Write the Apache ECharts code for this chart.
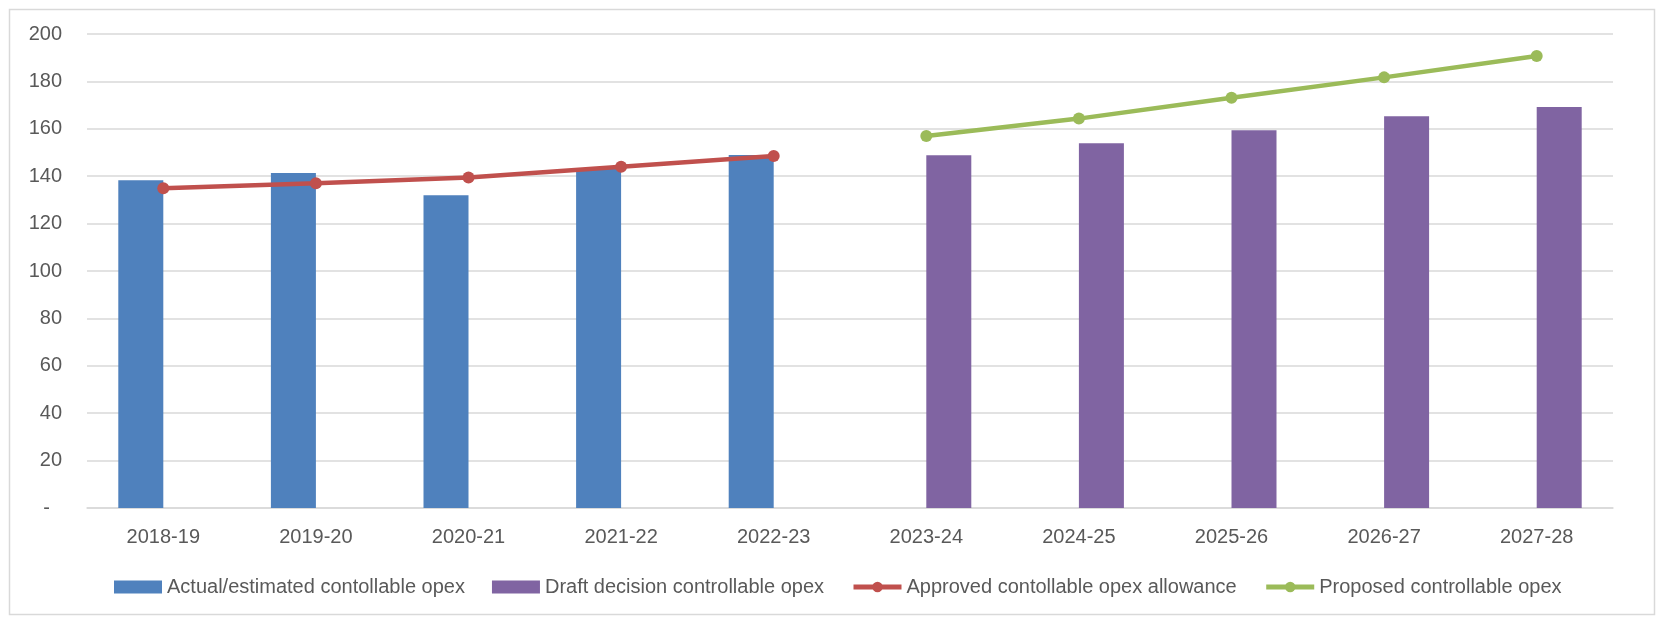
<!DOCTYPE html>
<html>
<head>
<meta charset="utf-8">
<script src="https://cdn.jsdelivr.net/npm/echarts@6/dist/echarts.min.js"></script>
<style>html,body{margin:0;padding:0;background:#fff;}#c{width:1659px;height:619px;}</style>
</head>
<body>
<div id="c"></div>
<script>
var categories = ['2018-19','2019-20','2020-21','2021-22','2022-23','2023-24','2024-25','2025-26','2026-27','2027-28'];
var actualOpex = [138.3, 141.4, 132.0, 143.3, 148.9, null, null, null, null, null];
var draftOpex = [null, null, null, null, null, 148.8, 153.9, 159.4, 165.3, 169.2];
var approvedAllowance = [134.9, 137.0, 139.5, 144.0, 148.5, null, null, null, null, null];
var proposedOpex = [null, null, null, null, null, 157.0, 164.3, 173.1, 181.7, 190.7];
var yTicks = {min: 0, max: 200, interval: 20};

var chart = echarts.init(document.getElementById('c'));
var font = 'Liberation Sans, Arial, sans-serif';
chart.setOption({
  animation: false,
  backgroundColor: '#fff',
  graphic: [{
    type: 'rect', left: 7, top: 7,
    shape: {width: 1645, height: 605},
    style: {fill: 'none', stroke: '#D9D9D9', lineWidth: 1.5}
  }],
  grid: {left: 87, right: 46, top: 34, bottom: 111},
  legend: {
    top: 572, left: 109,
    itemWidth: 48, itemHeight: 13, itemGap: 27,
    textStyle: {fontFamily: font, fontSize: 20, color: '#595959'},
    data: [
      {name: 'Actual/estimated contollable opex', icon: 'rect'},
      {name: 'Draft decision controllable opex', icon: 'rect'},
      {name: 'Approved contollable opex allowance', lineStyle: {width: 5}},
      {name: 'Proposed controllable opex', lineStyle: {width: 5}}
    ]
  },
  xAxis: {
    type: 'category', data: categories,
    axisLine: {lineStyle: {color: '#D9D9D9', width: 1.5}},
    axisTick: {show: false},
    axisLabel: {fontFamily: font, fontSize: 20, color: '#595959', margin: 19}
  },
  yAxis: {
    type: 'value', min: yTicks.min, max: yTicks.max, interval: yTicks.interval,
    axisLine: {show: false}, axisTick: {show: false},
    splitLine: {lineStyle: {color: '#D9D9D9', width: 1.5}},
    axisLabel: {
      fontFamily: font, fontSize: 20, color: '#595959', margin: 25,
      formatter: function (v) { return v === 0 ? '{z|-}' : String(v); },
      rich: {z: {fontFamily: font, fontSize: 20, color: '#595959', padding: [0, 12, 0, 0]}}
    }
  },
  series: [
    {name: 'Actual/estimated contollable opex', type: 'bar', data: actualOpex,
      barWidth: 45, barGap: '0%', itemStyle: {color: '#4F81BD'}},
    {name: 'Draft decision controllable opex', type: 'bar', data: draftOpex,
      barWidth: 45, barGap: '0%', itemStyle: {color: '#8064A2'}},
    {name: 'Approved contollable opex allowance', type: 'line', data: approvedAllowance,
      symbol: 'circle', symbolSize: 12, lineStyle: {color: '#C0504D', width: 4.5},
      itemStyle: {color: '#C0504D'}},
    {name: 'Proposed controllable opex', type: 'line', data: proposedOpex,
      symbol: 'circle', symbolSize: 12, lineStyle: {color: '#9BBB59', width: 4.5},
      itemStyle: {color: '#9BBB59'}}
  ]
});
</script>
</body>
</html>
